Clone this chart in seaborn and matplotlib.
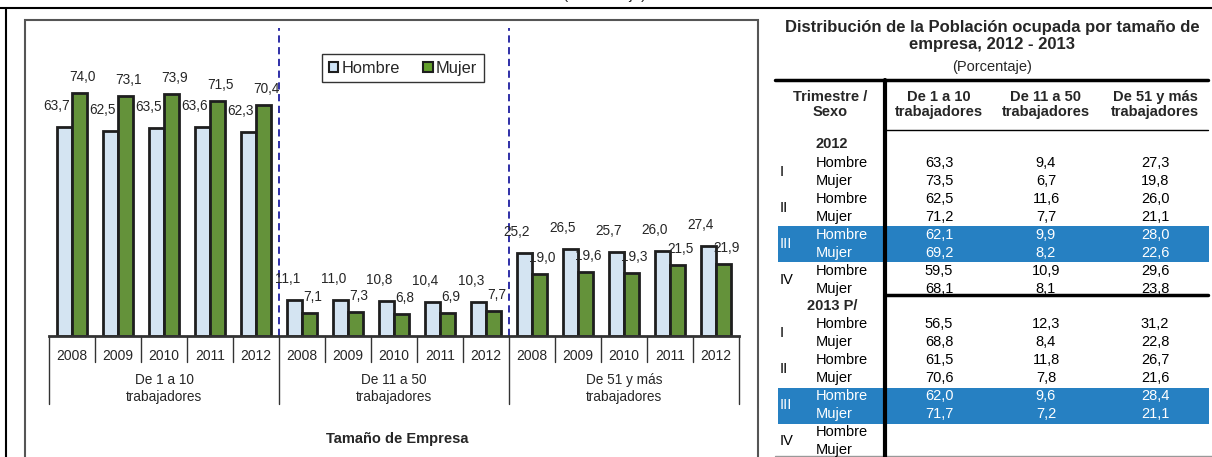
import matplotlib
matplotlib.use("Agg")
import pandas as pd
import matplotlib.pyplot as plt
from matplotlib import transforms
from matplotlib.patches import Patch, Rectangle
from matplotlib.lines import Line2D
import seaborn as sns

W, H = 1212, 457

# datos del grafico
grupos = ["De 1 a 10\ntrabajadores", "De 11 a 50\ntrabajadores", "De 51 y más\ntrabajadores"]
anios = ["2008", "2009", "2010", "2011", "2012"]
hombre = [63.7, 62.5, 63.5, 63.6, 62.3,
          11.1, 11.0, 10.8, 10.4, 10.3,
          25.2, 26.5, 25.7, 26.0, 27.4]
mujer = [74.0, 73.1, 73.9, 71.5, 70.4,
         7.1, 7.3, 6.8, 6.9, 7.7,
         19.0, 19.6, 19.3, 21.5, 21.9]

# datos de la tabla (columnas: 1-10, 11-50, 51 y mas)
trimestres = ["I", "II", "III", "IV"]
columnas = ["De 1 a 10\ntrabajadores", "De 11 a 50\ntrabajadores", "De 51 y más\ntrabajadores"]
t2012_hombre = [[63.3, 9.4, 27.3], [62.5, 11.6, 26.0], [62.1, 9.9, 28.0], [59.5, 10.9, 29.6]]
t2012_mujer = [[73.5, 6.7, 19.8], [71.2, 7.7, 21.1], [69.2, 8.2, 22.6], [68.1, 8.1, 23.8]]
t2013_hombre = [[56.5, 12.3, 31.2], [61.5, 11.8, 26.7], [62.0, 9.6, 28.4]]
t2013_mujer = [[68.8, 8.4, 22.8], [70.6, 7.8, 21.6], [71.7, 7.2, 21.1]]

c_hombre = "#cfe4f7"
c_mujer = "#63a02c"
c_borde = "#1e1e1e"
c_banda = "#2680c2"

sns.set_style("white")
plt.rcParams["font.family"] = ["Liberation Sans", "DejaVu Sans"]


def fx(px):
    return px / W


def fy(py):
    return 1 - py / H


def coma(v):
    return f"{v:.1f}".replace(".", ",")


fig = plt.figure(figsize=(W / 100, H / 100), dpi=100)

# marcos
fig.add_artist(Line2D([0, 1], [fy(8), fy(8)], color="black", lw=1.5))
fig.add_artist(Line2D([fx(6), fx(6)], [fy(8), fy(470)], color="black", lw=1.5))
fig.add_artist(Rectangle((fx(25), fy(470)), fx(758) - fx(25), fy(20) - fy(470),
                         fill=False, ec="#555555", lw=1.5))
fig.text(fx(605), fy(-1), "(Porcentaje)", ha="center", va="baseline", fontsize=11)

# ---- grafico de barras ----
claves = [f"{g.split(chr(10))[0]} {a}" for g in grupos for a in anios]
df = pd.DataFrame({
    "clave": claves * 2,
    "sexo": ["Hombre"] * len(claves) + ["Mujer"] * len(claves),
    "valor": hombre + mujer,
})

ax = fig.add_axes([fx(49), fy(336), fx(739) - fx(49), fy(20) - fy(336)])
sns.barplot(data=df, x="clave", y="valor", hue="sexo", order=claves,
            hue_order=["Hombre", "Mujer"], palette=[c_hombre, c_mujer],
            width=0.65, edgecolor=c_borde, linewidth=2, legend=False, ax=ax)
ax.set_xlim(-0.5, len(claves) - 0.5)
ax.set_ylim(0, 316 / 3.28)
ax.set_xlabel("")
ax.set_ylabel("")
ax.set_yticks([])
for s in ["left", "top", "right"]:
    ax.spines[s].set_visible(False)
ax.spines["bottom"].set_linewidth(2)
ax.spines["bottom"].set_color("#333333")
ax.set_facecolor("none")

ax.set_xticks(range(len(claves)))
ax.set_xticklabels(anios * len(grupos))
ax.tick_params(axis="x", length=0, pad=9, labelsize=10)

for bar in ax.containers[0]:
    ax.annotate(coma(bar.get_height()), (bar.get_x() + bar.get_width(), bar.get_height()),
                xytext=(-2, 21), textcoords="offset pixels", ha="right", va="center",
                fontsize=9.8)
for bar in ax.containers[1]:
    ax.annotate(coma(bar.get_height()), (bar.get_x() + bar.get_width() / 2, bar.get_height()),
                xytext=(3, 16), textcoords="offset pixels", ha="center", va="center",
                fontsize=9.8)

trans = transforms.blended_transform_factory(ax.transData, fig.transFigure)
n = len(anios)
for i in range(len(claves) + 1):
    b = i - 0.5
    largo = i % n == 0
    ax.plot([b, b], [fy(336), fy(404 if largo else 362)], transform=trans,
            clip_on=False, color="#333333", lw=1)
for k in range(1, len(grupos)):
    ax.plot([k * n - 0.5] * 2, [fy(336), fy(28)], transform=trans, clip_on=False,
            color="#1f1fa0", lw=1.3, ls=(0, (4, 2.5)))
for k, g in enumerate(grupos):
    ax.text(k * n + (n - 1) / 2, fy(388.5), g, transform=trans, ha="center", va="center",
            fontsize=9.8, linespacing=1.3)

fig.text(fx(397), fy(439), "Tamaño de Empresa", ha="center", va="center",
         fontsize=10.5, fontweight="bold")

leg = fig.legend(handles=[Patch(fc=c_hombre, ec=c_borde, lw=1.5, label="Hombre"),
                          Patch(fc=c_mujer, ec=c_borde, lw=1.5, label="Mujer")],
                 loc="upper left", bbox_to_anchor=(fx(322), fy(54)), ncol=2,
                 frameon=True, fancybox=False, edgecolor="black", fontsize=11.8,
                 handlelength=0.6, handleheight=0.6, handletextpad=0.2,
                 columnspacing=1.4, borderpad=0.4, borderaxespad=0)
leg.get_frame().set_linewidth(1.0)

# ---- tabla ----
fig.text(fx(992), fy(36), "Distribución de la Población ocupada por tamaño de\nempresa, 2012 - 2013",
         ha="center", va="center", fontsize=12, fontweight="bold", linespacing=1.1)
fig.text(fx(992), fy(67), "(Porcentaje)", ha="center", va="center", fontsize=10.5)

fig.add_artist(Line2D([fx(775), fx(1208)], [fy(79.5), fy(79.5)], color="black", lw=2.5))
fig.add_artist(Line2D([fx(885), fx(1208)], [fy(130), fy(130)], color="black", lw=1))
fig.add_artist(Line2D([fx(885), fx(1208)], [fy(295), fy(295)], color="black", lw=2.5))
fig.add_artist(Line2D([fx(775), fx(1212)], [fy(455.5), fy(455.5)], color="#999999", lw=1))

fig.text(fx(830), fy(104.5), "Trimestre /\nSexo", ha="center", va="center",
         fontsize=10.5, fontweight="bold", linespacing=1.15)
col_x = [939, 1046, 1155]
for cx, c in zip(col_x, columnas):
    fig.text(fx(cx), fy(104.5), c, ha="center", va="center", fontsize=10.5,
             fontweight="bold", linespacing=1.15)


def bloque(titulo, y_titulo, y0, datos_h, datos_m):
    fig.text(fx(832), fy(y_titulo), titulo, ha="center", va="center",
             fontsize=10.5, fontweight="bold")
    paso = 17.9
    for q, trim in enumerate(trimestres):
        yh = y0 + q * 2 * paso
        ym = yh + paso
        col = "black"
        if trim == "III":
            fig.add_artist(Rectangle((fx(778), fy(ym + 9.5)), fx(1209) - fx(778),
                                     fy(yh - 8.5) - fy(ym + 9.5), fc=c_banda, ec="none", zorder=0))
            col = "white"
        fig.text(fx(780), fy((yh + ym) / 2), trim, ha="left", va="center", fontsize=10.5, color=col)
        fig.text(fx(816), fy(yh), "Hombre", ha="left", va="center", fontsize=10.5, color=col)
        fig.text(fx(816), fy(ym), "Mujer", ha="left", va="center", fontsize=10.5, color=col)
        if q < len(datos_h):
            for cx, vh, vm in zip(col_x, datos_h[q], datos_m[q]):
                fig.text(fx(cx), fy(yh), coma(vh), ha="center", va="center", fontsize=10.5, color=col)
                fig.text(fx(cx), fy(ym), coma(vm), ha="center", va="center", fontsize=10.5, color=col)


bloque("2012", 144, 163.3, t2012_hombre, t2012_mujer)
bloque("2013 P/", 306, 324.5, t2013_hombre, t2013_mujer)

fig.add_artist(Line2D([fx(885), fx(885)], [fy(79.5), fy(470)], color="black", lw=3, zorder=5))

fig.savefig("out.png", dpi=100, facecolor="white")
